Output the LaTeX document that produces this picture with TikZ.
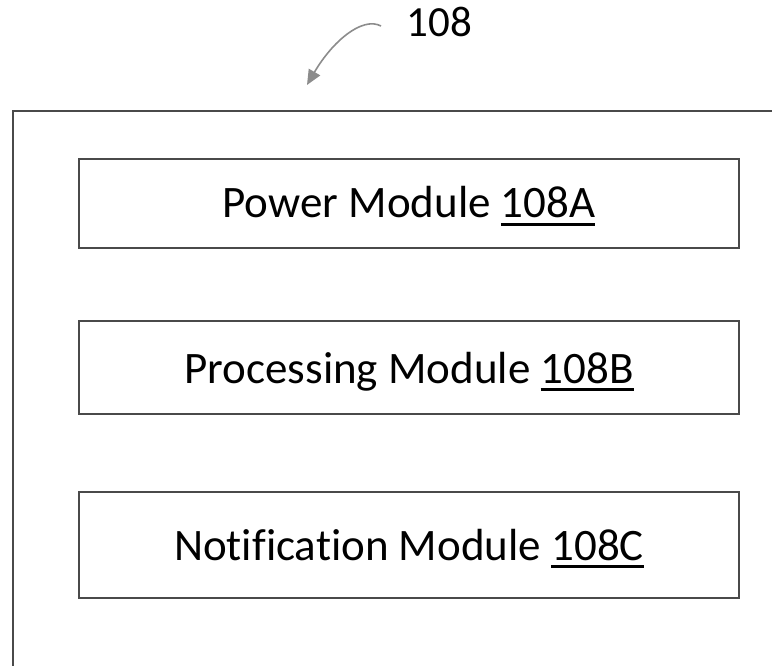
\documentclass[tikz,border=0pt]{standalone}
\usepackage{fontspec}
\setmainfont[Ligatures=NoCommon]{Carlito}
\usetikzlibrary{arrows.meta}
\definecolor{linegray}{HTML}{4A4A4A}
\definecolor{arrowgray}{HTML}{8C8C8C}
\newcommand\refnum[1]{\setbox0\hbox{#1}\rlap{\rule[-0.18em]{\wd0}{0.065em}}\box0}
\tikzset{
  modbox/.style={draw=linegray, line width=2.4pt, rectangle, inner sep=0pt,
    minimum width=660pt, font=\fontsize{45}{54}\selectfont, text=black},
  outerline/.style={draw=linegray, line width=2.5pt},
  refarrow/.style={draw=arrowgray, line width=1.6pt, -{Triangle[length=15pt,width=13pt]}, fill=none}
}
\begin{document}
\begin{tikzpicture}[x=1pt,y=-1pt]
\useasboundingbox (0,0) rectangle (772,666);
% outer housing (open to the right and bottom)
\coordinate (otr) at (773,111);
\coordinate (otl) at (13,111);
\coordinate (obl) at (13,667);
\draw[outerline] (otr) -- (otl) -- (obl);
% reference label
\node[anchor=base, font=\fontsize{43}{50}\selectfont, inner sep=0pt] (lbl) at (439.5,37) {108};
\coordinate (arrs) at (381,26);
\coordinate (arre) at (307,85);
\draw[refarrow] (arrs) .. controls (362,16) and (332,42) .. (arre);
% modules
\node[modbox, minimum height=89pt, text height=32pt, text depth=3pt] (pa) at (409,203.5) {Power Module \refnum{108A}};
\node[modbox, minimum height=93pt, text height=34pt, text depth=3pt] (pb) at (409,367.5) {Processing Module \refnum{108B}};
\node[modbox, minimum height=106pt, text height=33pt, text depth=3pt] (pc) at (409,545) {Notification Module \refnum{108C}};
\end{tikzpicture}
\end{document}
